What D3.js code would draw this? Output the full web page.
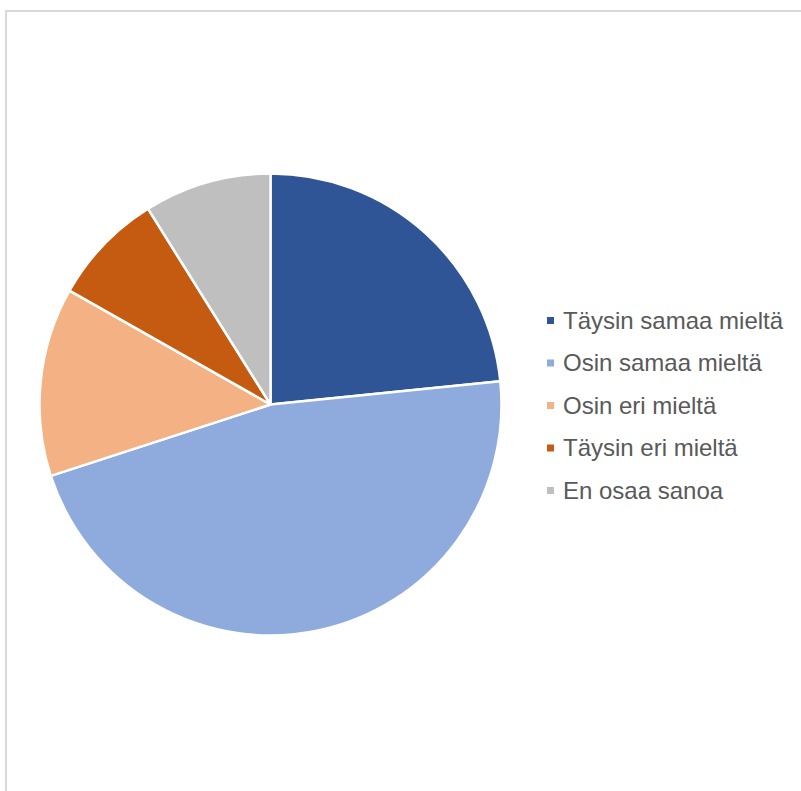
<!DOCTYPE html>
<html>
<head>
<meta charset="utf-8">
<script src="https://cdn.jsdelivr.net/npm/d3@7"></script>
<style>
  html, body { margin: 0; padding: 0; background: #ffffff; }
  svg { display: block; }
</style>
</head>
<body>
<script>
// Survey answers (share of respondents, %)
const categories = ["Täysin samaa mieltä", "Osin samaa mieltä", "Osin eri mieltä", "Täysin eri mieltä", "En osaa sanoa"];
const values = [23.4, 46.6, 13.2, 7.9, 8.9];
const colors = ["#2F5597", "#8FAADC", "#F4B183", "#C55A11", "#BFBFBF"];

const width = 801, height = 791;
const svg = d3.select("body").append("svg")
  .attr("width", width)
  .attr("height", height);

// chart frame (runs off the right and bottom edges)
svg.append("rect")
  .attr("x", 6).attr("y", 11)
  .attr("width", 900).attr("height", 900)
  .attr("fill", "none")
  .attr("stroke", "#d9d9d9")
  .attr("stroke-width", 2);

const cx = 270.5, cy = 404.5, r = 231;

const pie = d3.pie().sort(null).value(d => d.value);
const arc = d3.arc().innerRadius(0).outerRadius(r);
const data = categories.map((c, i) => ({ name: c, value: values[i], color: colors[i] }));

svg.append("g")
  .attr("transform", `translate(${cx},${cy})`)
  .selectAll("path")
  .data(pie(data))
  .join("path")
  .attr("d", arc)
  .attr("fill", d => d.data.color)
  .attr("stroke", "#ffffff")
  .attr("stroke-width", 2.5)
  .attr("stroke-linejoin", "round");

// legend
const legendY = d3.scalePoint().domain(categories).range([320.5, 490.5]);
const legend = svg.append("g")
  .selectAll("g")
  .data(data)
  .join("g")
  .attr("transform", d => `translate(547,${legendY(d.name)})`);

legend.append("rect")
  .attr("x", 0).attr("y", -3.5)
  .attr("width", 7).attr("height", 7)
  .attr("fill", d => d.color);

legend.append("text")
  .attr("x", 16)
  .attr("y", 0)
  .attr("dy", "0.35em")
  .attr("font-family", "Liberation Sans, Arial, sans-serif")
  .attr("font-size", 24)
  .attr("fill", "#595959")
  .text(d => d.name);
</script>
</body>
</html>
